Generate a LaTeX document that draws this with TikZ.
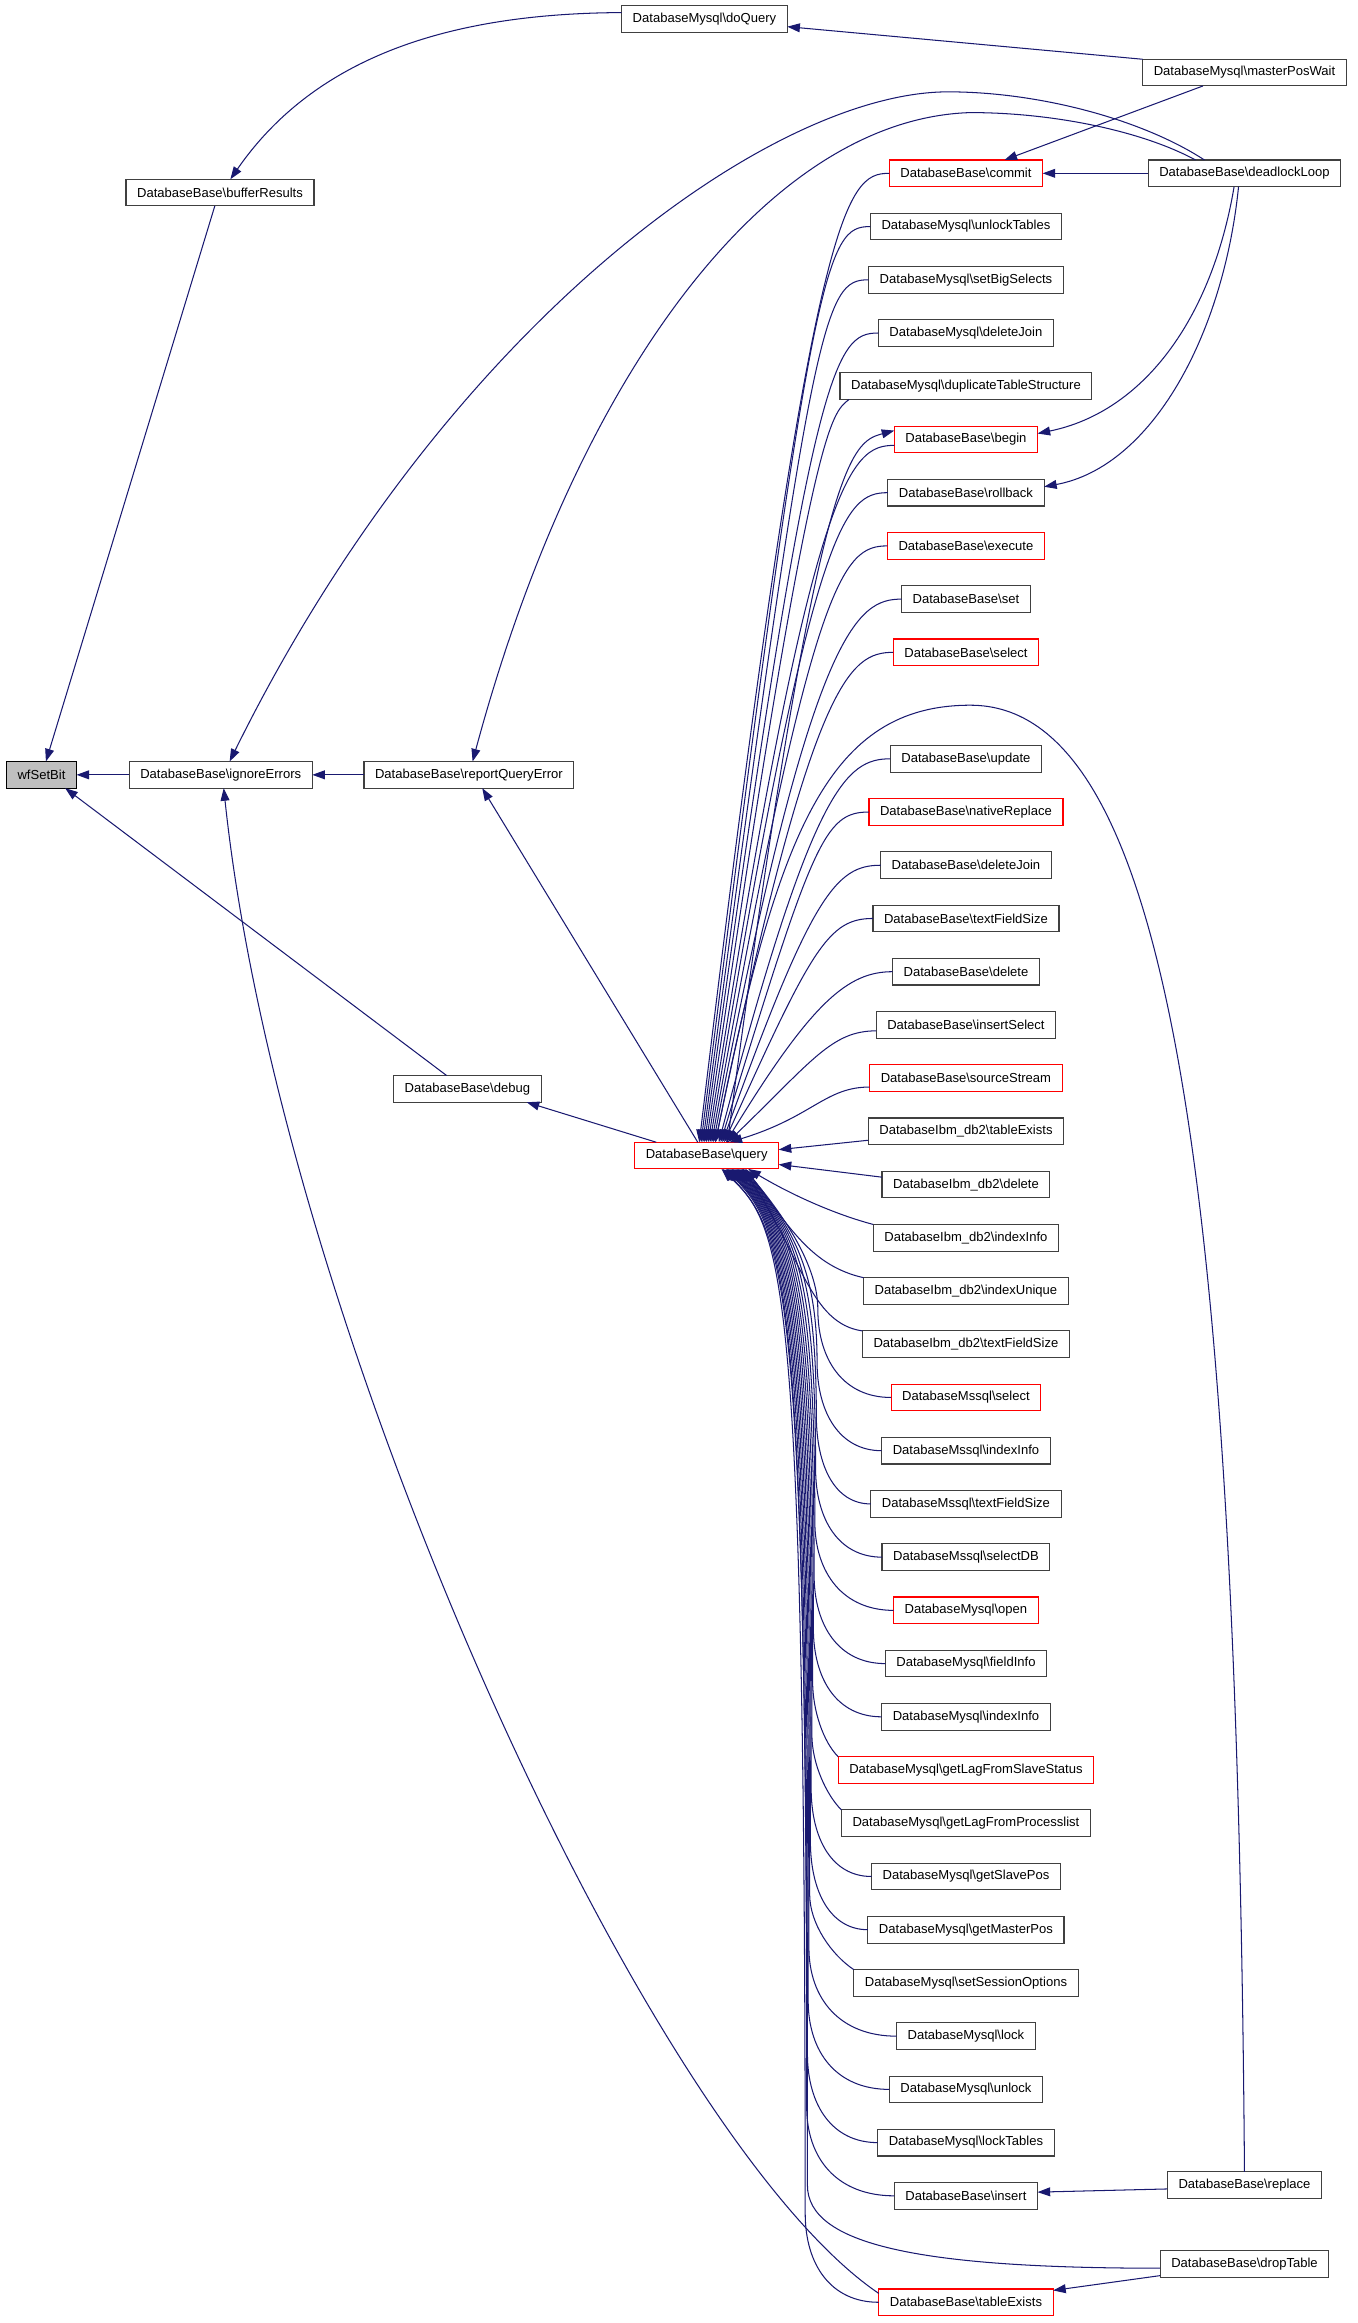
\documentclass[tikz,border=0pt]{standalone}
\usepackage{fontspec}
\setmainfont{Liberation Sans}
\usetikzlibrary{positioning,arrows.meta}
\definecolor{EdgeBlue}{HTML}{191970}
\definecolor{FrameRed}{HTML}{FF0000}
\definecolor{FrameGray}{HTML}{404040}
\definecolor{RootGray}{HTML}{BFBFBF}
\newcommand{\bsl}{\textbackslash}

\begin{document}
\begin{tikzpicture}[
  x=1pt, y=1pt,
  node distance=17.925pt,
  box/.style={
    draw=FrameGray, fill=white, line width=0.75pt,
    font=\fontsize{8.8}{10}\selectfont,
    minimum height=18pt, inner xsep=7.5pt, inner ysep=0pt, outer sep=0pt
  },
  redbox/.style={box, draw=FrameRed},
  arr/.style={-{Triangle[length=8.5pt,width=6pt]}, line width=0.7pt, draw=EdgeBlue}
]
\useasboundingbox (0,0) rectangle (916,-1568);

% left part
\node[box, fill=RootGray, draw=black] (wfSetBit) at (28,-523) {wfSetBit};
\node[box] (bufferResults) at (148.5,-130) {DatabaseBase\bsl{}bufferResults};
\node[box] (ignoreErrors) at (149,-523) {DatabaseBase\bsl{}ignoreErrors};
\node[box] (reportQueryError) at (316.5,-523) {DatabaseBase\bsl{}reportQueryError};
\node[box] (debug) at (315.5,-735) {DatabaseBase\bsl{}debug};
\node[box] (doQuery) at (475.5,-13) {DatabaseMysql\bsl{}doQuery};
\node[redbox] (query) at (477,-780) {DatabaseBase\bsl{}query};

% callers of query
\node[redbox] (commit) at (652,-117) {DatabaseBase\bsl{}commit};
\node[box, below=of commit] (unlockTables) {DatabaseMysql\bsl{}unlockTables};
\node[box, below=of unlockTables] (setBigSelects) {DatabaseMysql\bsl{}setBigSelects};
\node[box, below=of setBigSelects] (myDeleteJoin) {DatabaseMysql\bsl{}deleteJoin};
\node[box, below=of myDeleteJoin] (dupTable) {DatabaseMysql\bsl{}duplicateTableStructure};
\node[redbox, below=of dupTable] (begin) {DatabaseBase\bsl{}begin};
\node[box, below=of begin] (rollback) {DatabaseBase\bsl{}rollback};
\node[redbox, below=of rollback] (execute) {DatabaseBase\bsl{}execute};
\node[box, below=of execute] (baseSet) {DatabaseBase\bsl{}set};
\node[redbox, below=of baseSet] (baseSelect) {DatabaseBase\bsl{}select};
\node[box, below=53.85pt of baseSelect] (update) {DatabaseBase\bsl{}update};
\node[redbox, below=of update] (nativeReplace) {DatabaseBase\bsl{}nativeReplace};
\node[box, below=of nativeReplace] (baseDeleteJoin) {DatabaseBase\bsl{}deleteJoin};
\node[box, below=of baseDeleteJoin] (baseTextFieldSize) {DatabaseBase\bsl{}textFieldSize};
\node[box, below=of baseTextFieldSize] (baseDelete) {DatabaseBase\bsl{}delete};
\node[box, below=of baseDelete] (insertSelect) {DatabaseBase\bsl{}insertSelect};
\node[redbox, below=of insertSelect] (sourceStream) {DatabaseBase\bsl{}sourceStream};
\node[box, below=of sourceStream] (ibmTableExists) {DatabaseIbm\_db2\bsl{}tableExists};
\node[box, below=of ibmTableExists] (ibmDelete) {DatabaseIbm\_db2\bsl{}delete};
\node[box, below=of ibmDelete] (ibmIndexInfo) {DatabaseIbm\_db2\bsl{}indexInfo};
\node[box, below=of ibmIndexInfo] (ibmIndexUnique) {DatabaseIbm\_db2\bsl{}indexUnique};
\node[box, below=of ibmIndexUnique] (ibmTextFieldSize) {DatabaseIbm\_db2\bsl{}textFieldSize};
\node[redbox, below=of ibmTextFieldSize] (msSelect) {DatabaseMssql\bsl{}select};
\node[box, below=of msSelect] (msIndexInfo) {DatabaseMssql\bsl{}indexInfo};
\node[box, below=of msIndexInfo] (msTextFieldSize) {DatabaseMssql\bsl{}textFieldSize};
\node[box, below=of msTextFieldSize] (msSelectDB) {DatabaseMssql\bsl{}selectDB};
\node[redbox, below=of msSelectDB] (myOpen) {DatabaseMysql\bsl{}open};
\node[box, below=of myOpen] (myFieldInfo) {DatabaseMysql\bsl{}fieldInfo};
\node[box, below=of myFieldInfo] (myIndexInfo) {DatabaseMysql\bsl{}indexInfo};
\node[redbox, below=of myIndexInfo] (lagSlave) {DatabaseMysql\bsl{}getLagFromSlaveStatus};
\node[box, below=of lagSlave] (lagProc) {DatabaseMysql\bsl{}getLagFromProcesslist};
\node[box, below=of lagProc] (slavePos) {DatabaseMysql\bsl{}getSlavePos};
\node[box, below=of slavePos] (masterPos) {DatabaseMysql\bsl{}getMasterPos};
\node[box, below=of masterPos] (sessionOptions) {DatabaseMysql\bsl{}setSessionOptions};
\node[box, below=of sessionOptions] (myLock) {DatabaseMysql\bsl{}lock};
\node[box, below=of myLock] (myUnlock) {DatabaseMysql\bsl{}unlock};
\node[box, below=of myUnlock] (myLockTables) {DatabaseMysql\bsl{}lockTables};
\node[box, below=of myLockTables] (insertB) {DatabaseBase\bsl{}insert};
\node[redbox, below=53.85pt of insertB] (tableExists) {DatabaseBase\bsl{}tableExists};

% right column
\node[box] (masterPosWait) at (840,-49) {DatabaseMysql\bsl{}masterPosWait};
\node[box] (deadlockLoop) at (840,-117) {DatabaseBase\bsl{}deadlockLoop};
\node[box] (replace) at (840,-1475) {DatabaseBase\bsl{}replace};
\node[box] (dropTable) at (840,-1528) {DatabaseBase\bsl{}dropTable};

% calls into wfSetBit and its callers
\draw[arr] ([xshift=-3.5pt]bufferResults.south) -- ([xshift=3pt]wfSetBit.north);
\draw[arr] (ignoreErrors) -- (wfSetBit);
\draw[arr] ([xshift=-14pt]debug.north) -- ([xshift=16pt]wfSetBit.south);
\draw[arr] ([yshift=4.5pt]doQuery.west) .. controls (310,-9) and (215,-35) .. ([xshift=7pt]bufferResults.north);
\draw[arr] (masterPosWait.north west) -- ([yshift=-5pt]doQuery.east);
\draw[arr] ([xshift=-28pt]masterPosWait.south) -- ([xshift=26pt]commit.north);
\draw[arr] (deadlockLoop) -- (commit);
\draw[arr] ([xshift=-7pt]deadlockLoop.south) .. controls (818,-215) and (772,-278) .. ([yshift=4pt]begin.east);
\draw[arr] ([xshift=-4pt]deadlockLoop.south) .. controls (826,-225) and (778,-315) .. ([yshift=4pt]rollback.east);
\draw[arr] ([xshift=-27pt]deadlockLoop.north) .. controls (770,-80) and (700,-62) .. (640,-62) .. controls (520,-62) and (300,-220) .. ([xshift=6pt]ignoreErrors.north);
\draw[arr] ([xshift=-33pt]deadlockLoop.north) .. controls (770,-88) and (710,-76) .. (655,-76) .. controls (520,-80) and (390,-250) .. ([xshift=2.5pt]reportQueryError.north);
\draw[arr] (reportQueryError) -- (ignoreErrors);
\draw[arr] ([xshift=-6pt]query.north) -- ([xshift=9pt]reportQueryError.south);
\draw[arr] ([xshift=-34pt]query.north) -- ([xshift=40pt]debug.south);
\draw[arr] ([yshift=6pt]tableExists.west) .. controls (438,-1443) and (190,-900) .. ([xshift=2pt]ignoreErrors.south);
\draw[arr] ([yshift=-8pt]dropTable.west) -- ([yshift=8pt]tableExists.east);
\draw[arr] ([yshift=-2.5pt]replace.west) -- ([yshift=2.5pt]insertB.east);
\draw[arr] ([yshift=-3pt]dropTable.west) .. controls (620,-1531) and (545,-1515) .. (545,-1475) .. controls (545,-860) and (530,-830) .. ([xshift=10pt]query.south);
\draw[arr] (replace.north) .. controls (835,-800) and (790,-476) .. (655,-476) .. controls (560,-476) and (525,-560) .. ([xshift=6pt]query.north);
\draw[arr] ([xshift=14pt]query.north) .. controls +(61,461) and +(-30,-8) .. ([yshift=6pt]begin.west);

% callers above query
\draw[arr] (commit.west) .. controls +(-30,0) and +(76,634) .. ([xshift=-5pt]query.north);
\draw[arr] (unlockTables.west) .. controls +(-30,0) and +(75,598) .. ([xshift=-3.8pt]query.north);
\draw[arr] (setBigSelects.west) .. controls +(-30,0) and +(74,562) .. ([xshift=-2.6pt]query.north);
\draw[arr] (myDeleteJoin.west) .. controls +(-30,0) and +(72,526) .. ([xshift=-1.4pt]query.north);
\draw[arr] ([xshift=6pt]dupTable.south west) .. controls +(-12,-10) and +(71,490) .. ([xshift=-0.2pt]query.north);
\draw[arr] ([yshift=-4pt]begin.west) .. controls +(-30,0) and +(70,450) .. ([xshift=1pt]query.north);
\draw[arr] (rollback.west) .. controls +(-30,0) and +(69,418) .. ([xshift=2.2pt]query.north);
\draw[arr] (execute.west) .. controls +(-30,0) and +(68,382) .. ([xshift=3.4pt]query.north);
\draw[arr] (baseSet.west) .. controls +(-30,0) and +(66,347) .. ([xshift=4.6pt]query.north);
\draw[arr] (baseSelect.west) .. controls +(-30,0) and +(65,311) .. ([xshift=5.8pt]query.north);
\draw[arr] (update.west) .. controls +(-30,0) and +(63,239) .. ([xshift=8.2pt]query.north);
\draw[arr] (nativeReplace.west) .. controls +(-30,0) and +(62,203) .. ([xshift=9.4pt]query.north);
\draw[arr] (baseDeleteJoin.west) .. controls +(-30,0) and +(60,167) .. ([xshift=10.6pt]query.north);
\draw[arr] (baseTextFieldSize.west) .. controls +(-30,0) and +(59,131) .. ([xshift=11.8pt]query.north);
\draw[arr] (baseDelete.west) .. controls +(-30,0) and +(58,95) .. ([xshift=13pt]query.north);
\draw[arr] ([yshift=-4pt]insertSelect.west) .. controls +(-30,0) and +(57,55) .. ([xshift=14.2pt]query.north);
\draw[arr] ([yshift=-6pt]sourceStream.west) .. controls +(-30,0) and +(56,17) .. ([xshift=15.4pt]query.north);

% callers beside and below query
\draw[arr] ([yshift=-6pt]ibmTableExists.west) -- ([yshift=4pt]query.east);
\draw[arr] ([yshift=5pt]ibmDelete.west) -- ([yshift=-6pt]query.east);
\draw[arr] (ibmIndexInfo.north west) .. controls +(-30,8) and +(25,-15) .. ([xshift=28pt]query.south);
\draw[arr] (ibmIndexUnique.north west) .. controls +(-35,8) and +(30,-40) .. ([xshift=26.3pt]query.south);
\draw[arr] (ibmTextFieldSize.north west) .. controls +(-35,5) and +(40,-60) .. ([xshift=24.6pt]query.south);
\draw[arr] (msSelect.west) .. controls +(-32,0) and +(0,-35) .. (552,-883.3) .. controls (552,-860) and (537,-830) .. ([xshift=25.5pt]query.south);
\draw[arr] (msIndexInfo.west) .. controls +(-28,0) and +(0,-35) .. (551.5,-919.2) .. controls (551.5,-860) and (536.5,-830) .. ([xshift=24.6pt]query.south);
\draw[arr] (msTextFieldSize.west) .. controls +(-24,0) and +(0,-35) .. (551,-955.1) .. controls (551,-860) and (536,-830) .. ([xshift=23.8pt]query.south);
\draw[arr] (msSelectDB.west) .. controls +(-29,0) and +(0,-35) .. (550.5,-991) .. controls (550.5,-860) and (535.5,-830) .. ([xshift=22.9pt]query.south);
\draw[arr] (myOpen.west) .. controls +(-34,0) and +(0,-35) .. (550,-1026.9) .. controls (550,-860) and (535,-830) .. ([xshift=22pt]query.south);
\draw[arr] (myFieldInfo.west) .. controls +(-31,0) and +(0,-35) .. (549.5,-1062.9) .. controls (549.5,-860) and (534.5,-830) .. ([xshift=21.2pt]query.south);
\draw[arr] (myIndexInfo.west) .. controls +(-30,0) and +(0,-35) .. (549,-1098.8) .. controls (549,-860) and (534,-830) .. ([xshift=20.4pt]query.south);
\draw[arr] (lagSlave.north west) .. controls +(-10,10) and +(0,-20) .. (548.5,-1134.7) .. controls (548.5,-860) and (533.5,-830) .. ([xshift=19.5pt]query.south);
\draw[arr] (lagProc.north west) .. controls +(-10,10) and +(0,-20) .. (548,-1170.7) .. controls (548,-860) and (533,-830) .. ([xshift=18.7pt]query.south);
\draw[arr] (slavePos.west) .. controls +(-26.5,0) and +(0,-35) .. (547.5,-1206.6) .. controls (547.5,-860) and (532.5,-830) .. ([xshift=17.8pt]query.south);
\draw[arr] (masterPos.west) .. controls +(-25,0) and +(0,-35) .. (547,-1242.5) .. controls (547,-860) and (532,-830) .. ([xshift=17pt]query.south);
\draw[arr] (sessionOptions.north west) .. controls +(-15,10) and +(0,-20) .. (546.5,-1278.5) .. controls (546.5,-860) and (531.5,-830) .. ([xshift=16.1pt]query.south);
\draw[arr] (myLock.west) .. controls +(-38,0) and +(0,-35) .. (546,-1314.4) .. controls (546,-860) and (531,-830) .. ([xshift=15.3pt]query.south);
\draw[arr] (myUnlock.west) .. controls +(-35.5,0) and +(0,-35) .. (545.5,-1350.3) .. controls (545.5,-860) and (530.5,-830) .. ([xshift=14.4pt]query.south);
\draw[arr] (myLockTables.west) .. controls +(-30.5,0) and +(0,-35) .. (545,-1386.2) .. controls (545,-860) and (530,-830) .. ([xshift=13.6pt]query.south);
\draw[arr] (insertB.west) .. controls +(-38.5,0) and +(0,-35) .. (544.5,-1422.2) .. controls (544.5,-860) and (529.5,-830) .. ([xshift=12.7pt]query.south);
\draw[arr] (tableExists.west) .. controls +(-32,0) and +(0,-35) .. (543.5,-1494) .. controls (543.5,-860) and (528.5,-830) .. ([xshift=11pt]query.south);
\end{tikzpicture}
\end{document}
